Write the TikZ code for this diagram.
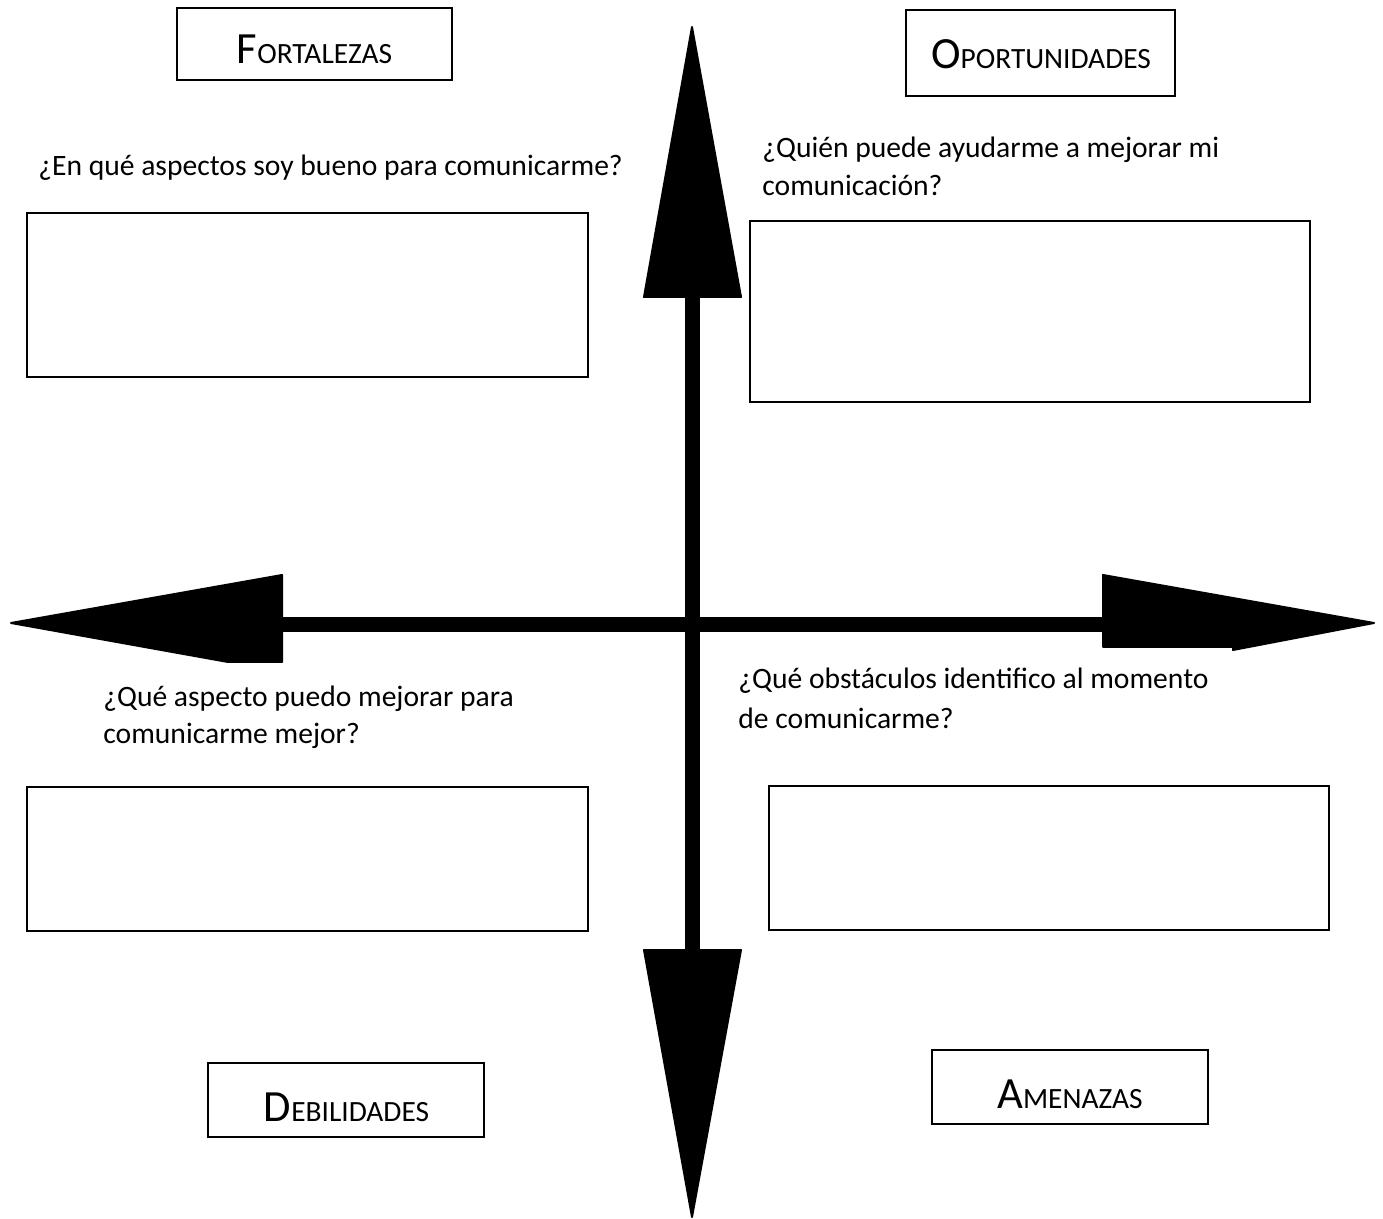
\documentclass[tikz,border=0pt]{standalone}
\usepackage{fontspec}
\setmainfont{Carlito}
\begin{document}
\begin{tikzpicture}[x=0.5pt,y=-0.5pt,
  box/.style={draw=black,line width=1pt,inner sep=0pt},
  qtext/.style={font=\fontsize{14.8pt}{18pt}\selectfont,inner sep=0pt,anchor=base west},
  ttl/.style={font=\fontsize{14.7pt}{18pt}\selectfont,inner sep=0pt},
  arrowfill/.style={fill=black,draw=black,line width=1pt,line join=round}]
\useasboundingbox (0,0) rectangle (1383,1219);
% title boxes
\newcommand{\bigL}[1]{{\fontsize{22.3pt}{26pt}\selectfont #1}}
\node[box,minimum width=137.5pt,minimum height=36pt] (fort) at (314.5,44) {};
\node[ttl,anchor=base] (fortt) at (314.5,64) {\bigL{F}ORTALEZAS};
\node[box,minimum width=134.5pt,minimum height=43pt] (opor) at (1040.5,53) {};
\node[ttl,anchor=base] (oport) at (1041,69) {\bigL{O}PORTUNIDADES};
\node[box,minimum width=138pt,minimum height=37pt] (debi) at (346,1100) {};
\node[ttl,anchor=base] (debit) at (346.5,1121) {\bigL{D}EBILIDADES};
\node[box,minimum width=138pt,minimum height=37pt] (amen) at (1070,1087) {};
\node[ttl,anchor=base] (ament) at (1070,1108) {\bigL{A}MENAZAS};
% questions
\node[qtext] (q1) at (38,176) {¿En qué aspectos soy bueno para comunicarme?};
\node[qtext] (q2a) at (762,158) {¿Quién puede ayudarme a mejorar mi};
\node[qtext] (q2b) at (762,196) {comunicación?};
\node[qtext] (q3a) at (103,706) {¿Qué aspecto puedo mejorar para};
\node[qtext] (q3b) at (103,744) {comunicarme mejor?};
\node[qtext] (q4a) at (738,689) {¿Qué obstáculos identifico al momento};
\node[qtext] (q4b) at (738,728) {de comunicarme?};
% answer boxes
\node[box,minimum width=280.5pt,minimum height=82pt] (a1) at (307.5,295) {};
\node[box,minimum width=280pt,minimum height=90.5pt] (a2) at (1030,311.5) {};
\node[box,minimum width=280.5pt,minimum height=72pt] (a3) at (307.5,859) {};
\node[box,minimum width=280pt,minimum height=72pt] (a4) at (1049,858) {};
% axes
\coordinate (c) at (692,624.5);
\fill[black] (685,296) rectangle (700,952);
\fill[black] (280,617) rectangle (1106,632);
\filldraw[arrowfill] (692,27) -- (741,297) -- (644,297) -- cycle;
\filldraw[arrowfill] (644,950) -- (741,950) -- (692,1217) -- cycle;
\filldraw[arrowfill] (11,623) -- (282,575) -- (282,662) -- (228,662) -- cycle;
\filldraw[arrowfill] (1103,575) -- (1374,623) -- (1233,650) -- (1233,647) -- (1103,647) -- cycle;
\end{tikzpicture}
\end{document}
